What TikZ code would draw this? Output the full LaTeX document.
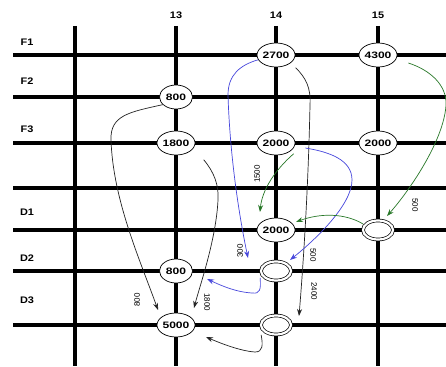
\documentclass[tikz,border=0pt]{standalone}
\usepackage{fontspec}
\setmainfont{Liberation Sans}
\newfontfamily\numfont{Liberation Sans}[FakeStretch=1.3]
\newfontfamily\hdrfont{Liberation Sans}[FakeStretch=1.15]
\usetikzlibrary{shapes.geometric,arrows.meta}
\definecolor{flowblue}{RGB}{70,70,220}
\definecolor{flowgreen}{RGB}{40,120,40}
\definecolor{flowgray}{RGB}{35,35,35}
\tikzset{
  gridline/.style={line width=3.3pt,black},
  valnode/.style={ellipse,draw,line width=0.7pt,fill=white,minimum width=33pt,
    minimum height=24pt,inner sep=0pt,font=\numfont\fontsize{9.3}{9.3}\selectfont\bfseries},
  emptynode/.style={ellipse,draw,double,double distance=2.2pt,line width=0.7pt,
    fill=white,minimum width=30pt,minimum height=19pt,inner sep=0pt},
  hdr/.style={font=\hdrfont\fontsize{9.5}{9.5}\selectfont\bfseries},
  qty/.style={font=\fontsize{8}{8}\selectfont},
  flow/.style={line width=0.7pt,-{Stealth[length=7pt,width=5pt]}},
}
\begin{document}
\begin{tikzpicture}[x=1pt,y=-1pt]
  \useasboundingbox[fill=white] (0,0) rectangle (446,366);

  % grid
  \foreach \yy in {55,97,143,188,230,271,325}
    \draw[gridline] (13,\yy) -- (446,\yy);
  \foreach \xx in {75,176,276,378}
    \draw[gridline] (\xx,26) -- (\xx,366);

  % column and row headers
  \node[hdr] (c13) at (176,15) {13};
  \node[hdr] (c14) at (276,15) {14};
  \node[hdr] (c15) at (378,15) {15};
  \node[hdr] (rF1) at (27,42) {F1};
  \node[hdr] (rF2) at (27,81) {F2};
  \node[hdr] (rF3) at (27,129) {F3};
  \node[hdr] (rD1) at (27,212) {D1};
  \node[hdr] (rD2) at (27,258) {D2};
  \node[hdr] (rD3) at (27,300) {D3};

  % stations
  \node[valnode] (n2700) at (276,55) {2700};
  \node[valnode] (n4300) at (378,55) {4300};
  \node[valnode] (n800a) at (176,97) {800};
  \node[valnode] (n1800) at (176,143) {1800};
  \node[valnode] (n2000a) at (276,143) {2000};
  \node[valnode] (n2000b) at (378,143) {2000};
  \node[valnode] (n2000c) at (276,230) {2000};
  \node[emptynode] (dD1) at (378,230) {};
  \node[emptynode] (dD2) at (276,271) {};
  \node[valnode] (n800b) at (176,271) {800};
  \node[emptynode] (dD3) at (276,325) {};
  \node[valnode] (n5000) at (176,325) {5000};

  % arrow tips
  \coordinate (t1) at (158,310);
  \coordinate (t2) at (194,308);
  \coordinate (t3) at (299,316);
  \coordinate (t4) at (248,258);
  \coordinate (t5) at (290,260);
  \coordinate (t6) at (207,279);
  \coordinate (t7) at (206,337);
  \coordinate (t8) at (260,212);
  \coordinate (t9) at (296,222);
  \coordinate (t10) at (387,216);

  % black flows
  \draw[flow,flowgray] (n800a.210) .. controls (130,112) and (110,115) .. (111,140)
    .. controls (113,200) and (140,260) .. (t1);
  \draw[flow,flowgray] ([shift={(14,8)}]n1800.south east) .. controls (214,172) and (219,185) .. (218,200)
    .. controls (216,240) and (200,285) .. (t2);
  \draw[flow,flowgray] ([shift={(6,4)}]n2700.south east) .. controls (306,78) and (311,88) .. (310,105)
    .. controls (308,200) and (302,280) .. (t3);
  \draw[flow,flowgray] ([shift={(-4,3)}]dD3.south west) .. controls (263,345) and (263,352) .. (255,352)
    .. controls (240,351) and (220,343) .. (t7);

  % blue flows
  \draw[flow,flowblue] (n2700.195) .. controls (240,65) and (228,75) .. (228,95)
    .. controls (230,160) and (240,220) .. (t4);
  \draw[flow,flowblue] ([shift={(10,5)}]n2000a.east) .. controls (330,152) and (352,160) .. (352,180)
    .. controls (352,205) and (315,240) .. (t5);
  \draw[flow,flowblue] ([shift={(-5,0)}]dD2.south west) .. controls (261,290) and (260,294) .. (252,293)
    .. controls (235,292) and (220,285) .. (t6);

  % green flows
  \draw[flow,flowgreen] ([shift={(4,2)}]n2000a.south east) .. controls (275,170) and (262,190) .. (t8);
  \draw[flow,flowgreen] ([shift={(-4,1)}]dD1.north west) .. controls (345,213) and (320,213) .. (t9);
  \draw[flow,flowgreen] ([shift={(11,8)}]n4300.east) .. controls (430,70) and (447,85) .. (446,105)
    .. controls (444,140) and (410,190) .. (t10);

  % quantities
  \node[qty,rotate=90] (q800) at (137,300) {800};
  \node[qty,rotate=-90] (q1800) at (207,302) {1800};
  \node[qty,rotate=90] (q1500) at (257,174) {1500};
  \node[qty,rotate=90] (q300) at (240,251) {300};
  \node[qty,rotate=-90] (q500a) at (313,255) {500};
  \node[qty,rotate=-90] (q2400) at (314,291) {2400};
  \node[qty,rotate=-90] (q500b) at (415,205) {500};
\end{tikzpicture}
\end{document}
